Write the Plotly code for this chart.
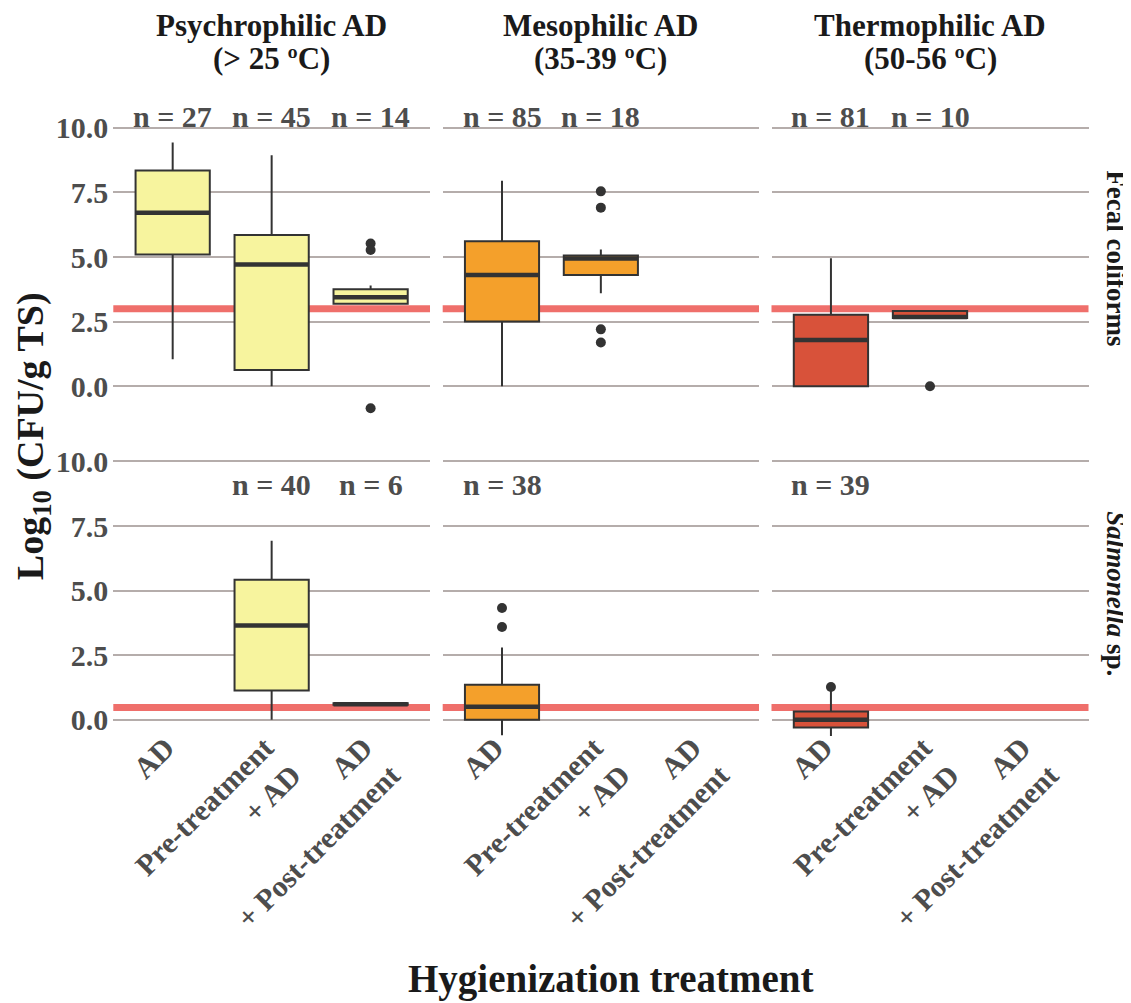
import plotly.graph_objects as go
from plotly.subplots import make_subplots

# ---------------- data ----------------
categories = ["AD", "Pre-treatment<br>+ AD", "AD<br>+ Post-treatment"]
temperature_titles = [("Psychrophilic AD", "(> 25 ºC)"),
                      ("Mesophilic AD", "(35-39 ºC)"),
                      ("Thermophilic AD", "(50-56 ºC)")]
pathogen_titles = ["Fecal coliforms", "<i>Salmonella</i> sp."]
y_tick_vals = [0, 2.5, 5, 7.5, 10]
y_tick_text = ["0.0", "2.5", "5.0", "7.5", "10.0"]
limit_values = [3.0, 0.477]          # regulatory limit (log10 CFU/g TS) per pathogen

# Fecal coliforms - psychrophilic
fc_psy_n = [27, 45, 14]
fc_psy_low = [1.04, 0.00, 3.19]
fc_psy_q1 = [5.10, 0.63, 3.19]
fc_psy_med = [6.71, 4.71, 3.44]
fc_psy_q3 = [8.35, 5.85, 3.75]
fc_psy_high = [9.43, 8.94, 3.90]
fc_psy_out = [[], [], [5.52, 5.27, -0.85]]

# Fecal coliforms - mesophilic
fc_mes_n = [85, 18, None]
fc_mes_low = [0.00, 3.60, None]
fc_mes_q1 = [2.50, 4.30, None]
fc_mes_med = [4.30, 4.94, None]
fc_mes_q3 = [5.61, 5.06, None]
fc_mes_high = [7.95, 5.29, None]
fc_mes_out = [[], [7.54, 6.91, 2.20, 1.69], []]

# Fecal coliforms - thermophilic
fc_the_n = [81, 10, None]
fc_the_low = [0.00, 2.64, None]
fc_the_q1 = [0.00, 2.64, None]
fc_the_med = [1.79, 2.68, None]
fc_the_q3 = [2.77, 2.91, None]
fc_the_high = [4.95, 2.91, None]
fc_the_out = [[], [0.00], []]

# Salmonella - psychrophilic
sa_psy_n = [None, 40, 6]
sa_psy_low = [None, 0.00, 0.58]
sa_psy_q1 = [None, 1.14, 0.58]
sa_psy_med = [None, 3.65, 0.60]
sa_psy_q3 = [None, 5.42, 0.64]
sa_psy_high = [None, 6.93, 0.64]
sa_psy_out = [[], [], []]

# Salmonella - mesophilic
sa_mes_n = [38, None, None]
sa_mes_low = [-0.60, None, None]
sa_mes_q1 = [0.00, None, None]
sa_mes_med = [0.51, None, None]
sa_mes_q3 = [1.36, None, None]
sa_mes_high = [2.80, None, None]
sa_mes_out = [[4.33, 3.59], [], []]

# Salmonella - thermophilic
sa_the_n = [39, None, None]
sa_the_low = [-0.62, None, None]
sa_the_q1 = [-0.30, None, None]
sa_the_med = [0.00, None, None]
sa_the_q3 = [0.32, None, None]
sa_the_high = [1.20, None, None]
sa_the_out = [[1.27], [], []]


def panel(n, low, q1, med, q3, high, out):
    return dict(n=n, low=low, q1=q1, med=med, q3=q3, high=high, out=out)


panels = [
    [panel(fc_psy_n, fc_psy_low, fc_psy_q1, fc_psy_med, fc_psy_q3, fc_psy_high, fc_psy_out),
     panel(fc_mes_n, fc_mes_low, fc_mes_q1, fc_mes_med, fc_mes_q3, fc_mes_high, fc_mes_out),
     panel(fc_the_n, fc_the_low, fc_the_q1, fc_the_med, fc_the_q3, fc_the_high, fc_the_out)],
    [panel(sa_psy_n, sa_psy_low, sa_psy_q1, sa_psy_med, sa_psy_q3, sa_psy_high, sa_psy_out),
     panel(sa_mes_n, sa_mes_low, sa_mes_q1, sa_mes_med, sa_mes_q3, sa_mes_high, sa_mes_out),
     panel(sa_the_n, sa_the_low, sa_the_q1, sa_the_med, sa_the_q3, sa_the_high, sa_the_out)],
]

# ---------------- style / layout ----------------
OFF = 8                                   # page body margin
W, H = 1131 - OFF, 1003 - OFF
FONT = "Liberation Serif"
FILLS = ["#F7F49E", "#F4A02B", "#D8523A"]
OUTLINE = "#333333"
GRID = "#B5ADAB"
LIMIT_COLOR = "#EF6F6B"
TICK_COLOR = "#4D4D4D"
TITLE_COLOR = "#1A1A1A"
PPU = 25.9                                # pixels per log unit
row_zero_px = [385.0, 719.3]
row_ranges = [(-1.1, 11.0), (-0.75, 10.55)]
n_label_y = [10.42, 9.12]
col_px = [(113.3, 430.0), (442.7, 759.0), (771.5, 1088.5)]


def fx(px):
    return (px - OFF) / W


def fy(px):
    return 1 - (px - OFF) / H


fig = make_subplots(rows=2, cols=3)


def axid(r, c):
    k = r * 3 + c + 1
    return "" if k == 1 else str(k)


for r in range(2):
    for c in range(3):
        p = panels[r][c]
        for i, cat in enumerate(categories):
            if p["n"][i] is None:
                continue
            fig.add_trace(go.Box(
                x=[cat], q1=[p["q1"][i]], median=[p["med"][i]], q3=[p["q3"][i]],
                lowerfence=[p["low"][i]], upperfence=[p["high"][i]],
                width=0.75, fillcolor=FILLS[c], line=dict(color=OUTLINE, width=2),
                whiskerwidth=0, boxpoints=False, showlegend=False, hoverinfo="skip"),
                row=r + 1, col=c + 1)
            m = p["med"][i]
            fig.add_trace(go.Box(
                x=[cat], q1=[m], median=[m], q3=[m], lowerfence=[m], upperfence=[m],
                width=0.75, fillcolor="rgba(0,0,0,0)", line=dict(color=OUTLINE, width=4.5),
                whiskerwidth=0, boxpoints=False, showlegend=False, hoverinfo="skip"),
                row=r + 1, col=c + 1)
            if p["out"][i]:
                fig.add_trace(go.Scatter(
                    x=[cat] * len(p["out"][i]), y=p["out"][i], mode="markers",
                    marker=dict(color=OUTLINE, size=10), showlegend=False, hoverinfo="skip"),
                    row=r + 1, col=c + 1)
            fig.add_annotation(
                x=cat, y=n_label_y[r], xref="x" + axid(r, c), yref="y" + axid(r, c),
                text="<b>n = %d</b>" % p["n"][i], showarrow=False, yanchor="middle",
                font=dict(family=FONT, size=30, color=TICK_COLOR))
        # limit line
        fig.add_shape(type="line", xref="x" + axid(r, c) + " domain", yref="y" + axid(r, c),
                      x0=0, x1=1, y0=limit_values[r], y1=limit_values[r],
                      line=dict(color=LIMIT_COLOR, width=7), layer="below")

        # axes
        x0p, x1p = col_px[c]
        ymin, ymax = row_ranges[r]
        top_px = row_zero_px[r] - ymax * PPU
        bot_px = row_zero_px[r] - ymin * PPU
        xa = "xaxis" + axid(r, c)
        ya = "yaxis" + axid(r, c)
        fig.layout[xa].update(
            domain=[fx(x0p), fx(x1p)], type="category", categoryorder="array",
            categoryarray=categories, range=[-0.6, 2.6], showgrid=False, zeroline=False,
            showline=False, ticks="", showticklabels=(r == 1), tickangle=-45,
            ticklabelstandoff=-16, ticklabelshift=-7,
            tickfont=dict(family=FONT, size=30, color=TICK_COLOR, weight="bold"))
        fig.layout[ya].update(
            domain=[fy(bot_px), fy(top_px)], range=[ymin, ymax],
            tickmode="array", tickvals=y_tick_vals,
            ticktext=["<b>%s</b>" % t for t in y_tick_text],
            showticklabels=(c == 0), showgrid=True, gridcolor=GRID, gridwidth=2,
            zeroline=False, showline=False, ticks="", ticklabelstandoff=4,
            tickfont=dict(family=FONT, size=30, color=TICK_COLOR))

# column strip titles
for c, (l1, l2) in enumerate(temperature_titles):
    xc = fx((col_px[c][0] + col_px[c][1]) / 2)
    fig.add_annotation(x=xc, y=fy(24), xref="paper", yref="paper", text="<b>%s</b>" % l1,
                       showarrow=False, xanchor="center", yanchor="middle",
                       font=dict(family=FONT, size=31, color=TITLE_COLOR))
    fig.add_annotation(x=xc, y=fy(57), xref="paper", yref="paper", text="<b>%s</b>" % l2,
                       showarrow=False, xanchor="center", yanchor="middle",
                       font=dict(family=FONT, size=31, color=TITLE_COLOR))

# row strip titles
for r, t in enumerate(pathogen_titles):
    ymin, ymax = row_ranges[r]
    top_px = row_zero_px[r] - ymax * PPU
    bot_px = row_zero_px[r] - ymin * PPU
    fig.add_annotation(x=fx(1116), y=fy((top_px + bot_px) / 2), xref="paper", yref="paper",
                       text="<b>%s</b>" % t, textangle=90, showarrow=False,
                       xanchor="center", yanchor="middle",
                       font=dict(family=FONT, size=27, color=TITLE_COLOR))

# axis titles
fig.add_annotation(x=fx(610), y=fy(979), xref="paper", yref="paper",
                   text="<b>Hygienization treatment</b>", showarrow=False,
                   xanchor="center", yanchor="middle",
                   font=dict(family=FONT, size=39, color=TITLE_COLOR))
fig.add_annotation(x=fx(33), y=fy(435), xref="paper", yref="paper",
                   text="<b>Log<sub>10</sub> (CFU/g TS)</b>", textangle=-90, showarrow=False,
                   xanchor="center", yanchor="middle", borderpad=0,
                   font=dict(family=FONT, size=38, color=TITLE_COLOR))

fig.update_layout(width=W, height=H, margin=dict(l=0, r=0, t=0, b=0),
                  paper_bgcolor="white", plot_bgcolor="white", showlegend=False,
                  boxmode="overlay")

fig.write_html("out.html")
